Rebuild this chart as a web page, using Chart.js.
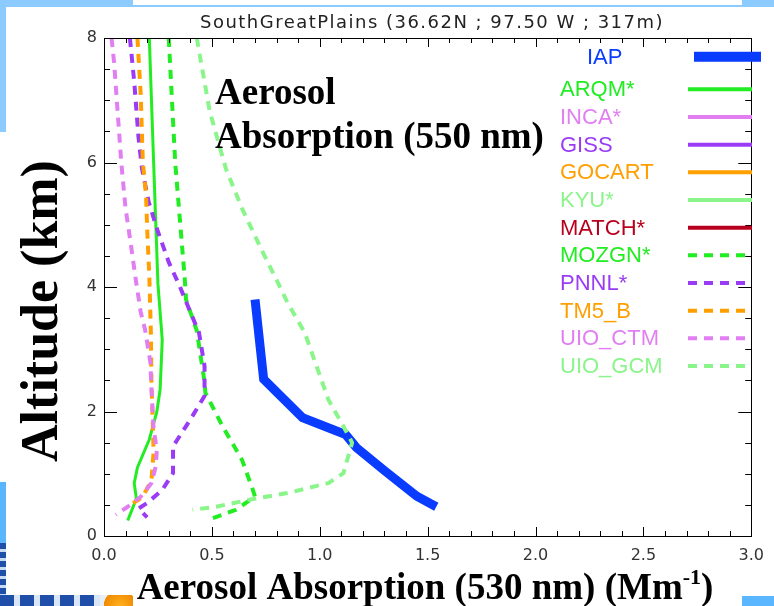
<!DOCTYPE html>
<html><head><meta charset="utf-8">
<script src="https://cdn.jsdelivr.net/npm/chart.js@4/dist/chart.umd.min.js"></script>
<style>
html,body{margin:0;padding:0;background:#fff;}
#wrap{position:relative;width:774px;height:606px;overflow:hidden;background:#fff;}
.deco{position:absolute;}
canvas{position:absolute;left:0;top:0;}
</style></head><body>
<div id="wrap">
<div class="deco" style="left:0;top:0;width:774px;height:7px;background:#8ccbff"></div>
<div class="deco" style="left:133px;top:0;width:609px;height:5px;background:#fff"></div>
<div class="deco" style="left:0;top:0;width:6px;height:132px;background:#8ccbff"></div>
<div class="deco" style="left:0;top:482px;width:6px;height:61px;background:#5ab6ff"></div>
<div class="deco" style="left:0;top:543px;width:6px;height:63px;background:repeating-linear-gradient(180deg,#1f4fa8 0 6px,#c9dbf2 6px 9px)"></div>
<div class="deco" style="left:0;top:595px;width:100px;height:11px;background:repeating-linear-gradient(90deg,#1f4fa8 0 14px,#d8e6f7 14px 20px)"></div>
<div class="deco" style="left:100px;top:595px;width:33px;height:11px;background:radial-gradient(circle at 60% 100%,#ffb020,#f08a00 70%,#e6eef8 72%)"></div>
<div class="deco" style="left:742px;top:596px;width:32px;height:10px;background:#5ab6ff"></div>
<canvas id="c" width="774" height="606"></canvas>
</div>
<script>
// ---- data: [absorption (Mm-1), altitude (km)] ----
const IAP     = [[0.70,3.80],[0.74,2.52],[0.92,1.90],[1.12,1.63],[1.17,1.42],[1.30,1.05],[1.45,0.64],[1.54,0.47]];
const ARQM    = [[0.21,8.0],[0.23,6.0],[0.25,4.05],[0.27,3.15],[0.26,2.35],[0.245,2.0],[0.21,1.55],[0.155,1.1],[0.14,0.85],[0.15,0.6],[0.11,0.25]];
const INCA    = [];
const GISS    = [];
const GOCART  = [];
const KYU     = [];
const MATCH   = [];
const MOZGN   = [[0.30,8.0],[0.33,6.0],[0.375,4.1],[0.38,3.8],[0.43,3.3],[0.465,2.5],[0.47,2.3],[0.55,1.76],[0.64,1.22],[0.69,0.74],[0.70,0.63],[0.61,0.42],[0.50,0.28]];
const PNNL    = [[0.12,8.0],[0.14,7.3],[0.16,6.4],[0.176,5.9],[0.207,5.37],[0.245,4.94],[0.30,4.4],[0.35,4.02],[0.40,3.6],[0.44,3.27],[0.466,2.73],[0.466,2.25],[0.40,1.87],[0.32,1.44],[0.32,1.01],[0.27,0.74],[0.20,0.53],[0.16,0.44],[0.20,0.30]];
const TM5_B   = [[0.155,8.0],[0.17,7.1],[0.18,6.0],[0.195,5.47],[0.20,4.94],[0.21,4.18],[0.217,3.3],[0.22,2.5],[0.227,1.7],[0.23,1.35],[0.22,0.9],[0.18,0.63],[0.11,0.47]];
const UIO_CTM = [[0.035,8.0],[0.047,7.6],[0.062,6.87],[0.08,6.0],[0.10,5.26],[0.123,4.72],[0.146,4.15],[0.17,3.6],[0.19,3.32],[0.215,2.79],[0.22,2.35],[0.23,1.71],[0.245,1.39],[0.24,1.12],[0.22,0.85],[0.17,0.63],[0.11,0.47],[0.055,0.34]];
const UIO_GCM = [[0.43,8.0],[0.49,6.82],[0.565,5.9],[0.64,5.26],[0.73,4.6],[0.82,3.97],[0.85,3.75],[0.93,3.27],[0.99,2.68],[1.04,2.19],[1.11,1.76],[1.15,1.5],[1.11,1.01],[1.04,0.85],[0.85,0.69],[0.67,0.58],[0.52,0.47],[0.41,0.42]];

const seriesNames = ['IAP','ARQM*','INCA*','GISS','GOCART','KYU*','MATCH*','MOZGN*','PNNL*','TM5_B','UIO_CTM','UIO_GCM'];
const seriesData  = [IAP, ARQM, INCA, GISS, GOCART, KYU, MATCH, MOZGN, PNNL, TM5_B, UIO_CTM, UIO_GCM];
const seriesColors = ['#0a3cff','#22ec22','#e07ef2','#9a3cf5','#ff9f00','#8af58a','#b8001e','#22ec22','#9a3cf5','#ff9f00','#e07ef2','#8af58a'];
const seriesDashed = [false,false,false,false,false,false,false,true,true,true,true,true];

const chartTitle = 'SouthGreatPlains (36.62N ; 97.50 W ; 317m)';
const xTitleMain = 'Aerosol Absorption (530 nm) (Mm';
const xTitleSup = '-1';
const yTitle = 'Altitude (km)';
const noteLines = ['Aerosol', 'Absorption (550 nm)'];

const datasets = seriesNames.map((n,i)=>({
  label:n,
  data: seriesData[i].map(p=>({x:p[0], y:p[1]})),
  borderColor: seriesColors[i],
  backgroundColor: seriesColors[i],
  borderWidth: i===0 ? 9 : (seriesDashed[i] ? 4 : 3),
  borderDash: seriesDashed[i] ? [9,7] : [],
  borderCapStyle: 'butt',
  borderJoinStyle: i===0 ? 'miter' : 'round',
  showLine: true,
  pointRadius: 0,
  tension: 0,
  fill: false,
  order: 12 - i
}));

const decor = {
  id:'decor',
  afterDraw(chart){
    const ctx = chart.ctx, a = chart.chartArea;
    const xs = chart.scales.x, ys = chart.scales.y;
    ctx.save();
    // frame
    ctx.strokeStyle = '#000'; ctx.lineWidth = 1; ctx.setLineDash([]);
    ctx.strokeRect(Math.round(a.left)+0.5, Math.round(a.top)+0.5, Math.round(a.right-a.left), Math.round(a.bottom-a.top));
    // inward ticks
    ctx.beginPath();
    for (let k=0;k<=30;k++){
      const v = k/10, px = Math.round(xs.getPixelForValue(v))+0.5;
      const L = (k%5===0) ? 9 : 5;
      ctx.moveTo(px, a.bottom); ctx.lineTo(px, a.bottom-L);
      ctx.moveTo(px, a.top); ctx.lineTo(px, a.top+L);
    }
    for (let k=0;k<=16;k++){
      const v = k/2, py = Math.round(ys.getPixelForValue(v))+0.5;
      const L = (k%4===0) ? 13 : 6;
      ctx.moveTo(a.left, py); ctx.lineTo(a.left+L, py);
      ctx.moveTo(a.right, py); ctx.lineTo(a.right-L, py);
    }
    ctx.stroke();

    // title
    ctx.fillStyle = '#222';
    ctx.font = '18px "DejaVu Sans"';
    ctx.textAlign = 'left'; ctx.textBaseline = 'alphabetic';
    const target = 464;
    const w0 = ctx.measureText(chartTitle).width;
    if ('letterSpacing' in ctx) ctx.letterSpacing = ((target - w0)/chartTitle.length).toFixed(2)+'px';
    const w1 = ctx.measureText(chartTitle).width;
    ctx.fillText(chartTitle, 432 - w1/2, 28);
    if ('letterSpacing' in ctx) ctx.letterSpacing = '0px';

    // note
    ctx.fillStyle = '#000';
    ctx.font = 'bold 37px "Liberation Serif"';
    ctx.fillText(noteLines[0], 215, 104);
    ctx.fillText(noteLines[1], 215, 148);

    // y title
    ctx.save();
    ctx.translate(57, 311);
    ctx.rotate(-Math.PI/2);
    ctx.font = 'bold 52px "Liberation Serif"';
    ctx.textAlign = 'center';
    ctx.fillText(yTitle, 0, 0);
    ctx.restore();

    // x title with superscript
    ctx.font = 'bold 37px "Liberation Serif"';
    const wm = ctx.measureText(xTitleMain).width;
    const wp = ctx.measureText(')').width;
    ctx.font = 'bold 22px "Liberation Serif"';
    const ws = ctx.measureText(xTitleSup).width;
    let x0 = 425 - (wm+ws+wp)/2;
    ctx.font = 'bold 37px "Liberation Serif"';
    ctx.fillText(xTitleMain, x0, 599);
    ctx.font = 'bold 22px "Liberation Serif"';
    ctx.fillText(xTitleSup, x0+wm, 584);
    ctx.font = 'bold 37px "Liberation Serif"';
    ctx.fillText(')', x0+wm+ws, 599);

    // legend
    chart.data.datasets.forEach((ds,i)=>{
      const y = i===0 ? 56.7 : 89.3 + (i-1)*27.67;
      ctx.strokeStyle = ds.borderColor;
      ctx.lineWidth = i===0 ? 10 : 4;
      ctx.lineCap = 'butt';
      ctx.setLineDash(ds.borderDash || []);
      ctx.beginPath();
      if (i===0){ ctx.moveTo(694, y); ctx.lineTo(761, y); }
      else { ctx.moveTo(688, y); ctx.lineTo(752, y); }
      ctx.stroke();
      ctx.setLineDash([]);
      ctx.fillStyle = ds.borderColor;
      ctx.font = '22px "Liberation Sans"';
      ctx.fillText(ds.label, i===0 ? 587 : 560, y + 7);
    });
    ctx.restore();
  }
};

new Chart(document.getElementById('c'), {
  type:'scatter',
  data:{datasets},
  options:{
    responsive:false,
    animation:false,
    devicePixelRatio:1,
    layout:{padding:{top:38,right:14,left:0,bottom:0}},
    plugins:{legend:{display:false}, tooltip:{enabled:false}, title:{display:false}},
    scales:{
      x:{
        type:'linear', min:0, max:3,
        afterFit:s=>{ s.height = 70; },
        grid:{display:false, drawTicks:false},
        border:{display:false},
        ticks:{stepSize:0.5, padding:10, color:'#333', font:{family:'DejaVu Sans', size:16}, maxRotation:0, autoSkip:false, callback:v=>Number(v).toFixed(1)}
      },
      y:{
        type:'linear', min:0, max:8,
        afterFit:s=>{ s.width = 104; },
        grid:{display:false, drawTicks:false},
        border:{display:false},
        ticks:{stepSize:2, padding:7, color:'#333', font:{family:'DejaVu Sans', size:16}, autoSkip:false, callback:v=>String(v)}
      }
    }
  },
  plugins:[decor]
});
</script>
</body></html>
